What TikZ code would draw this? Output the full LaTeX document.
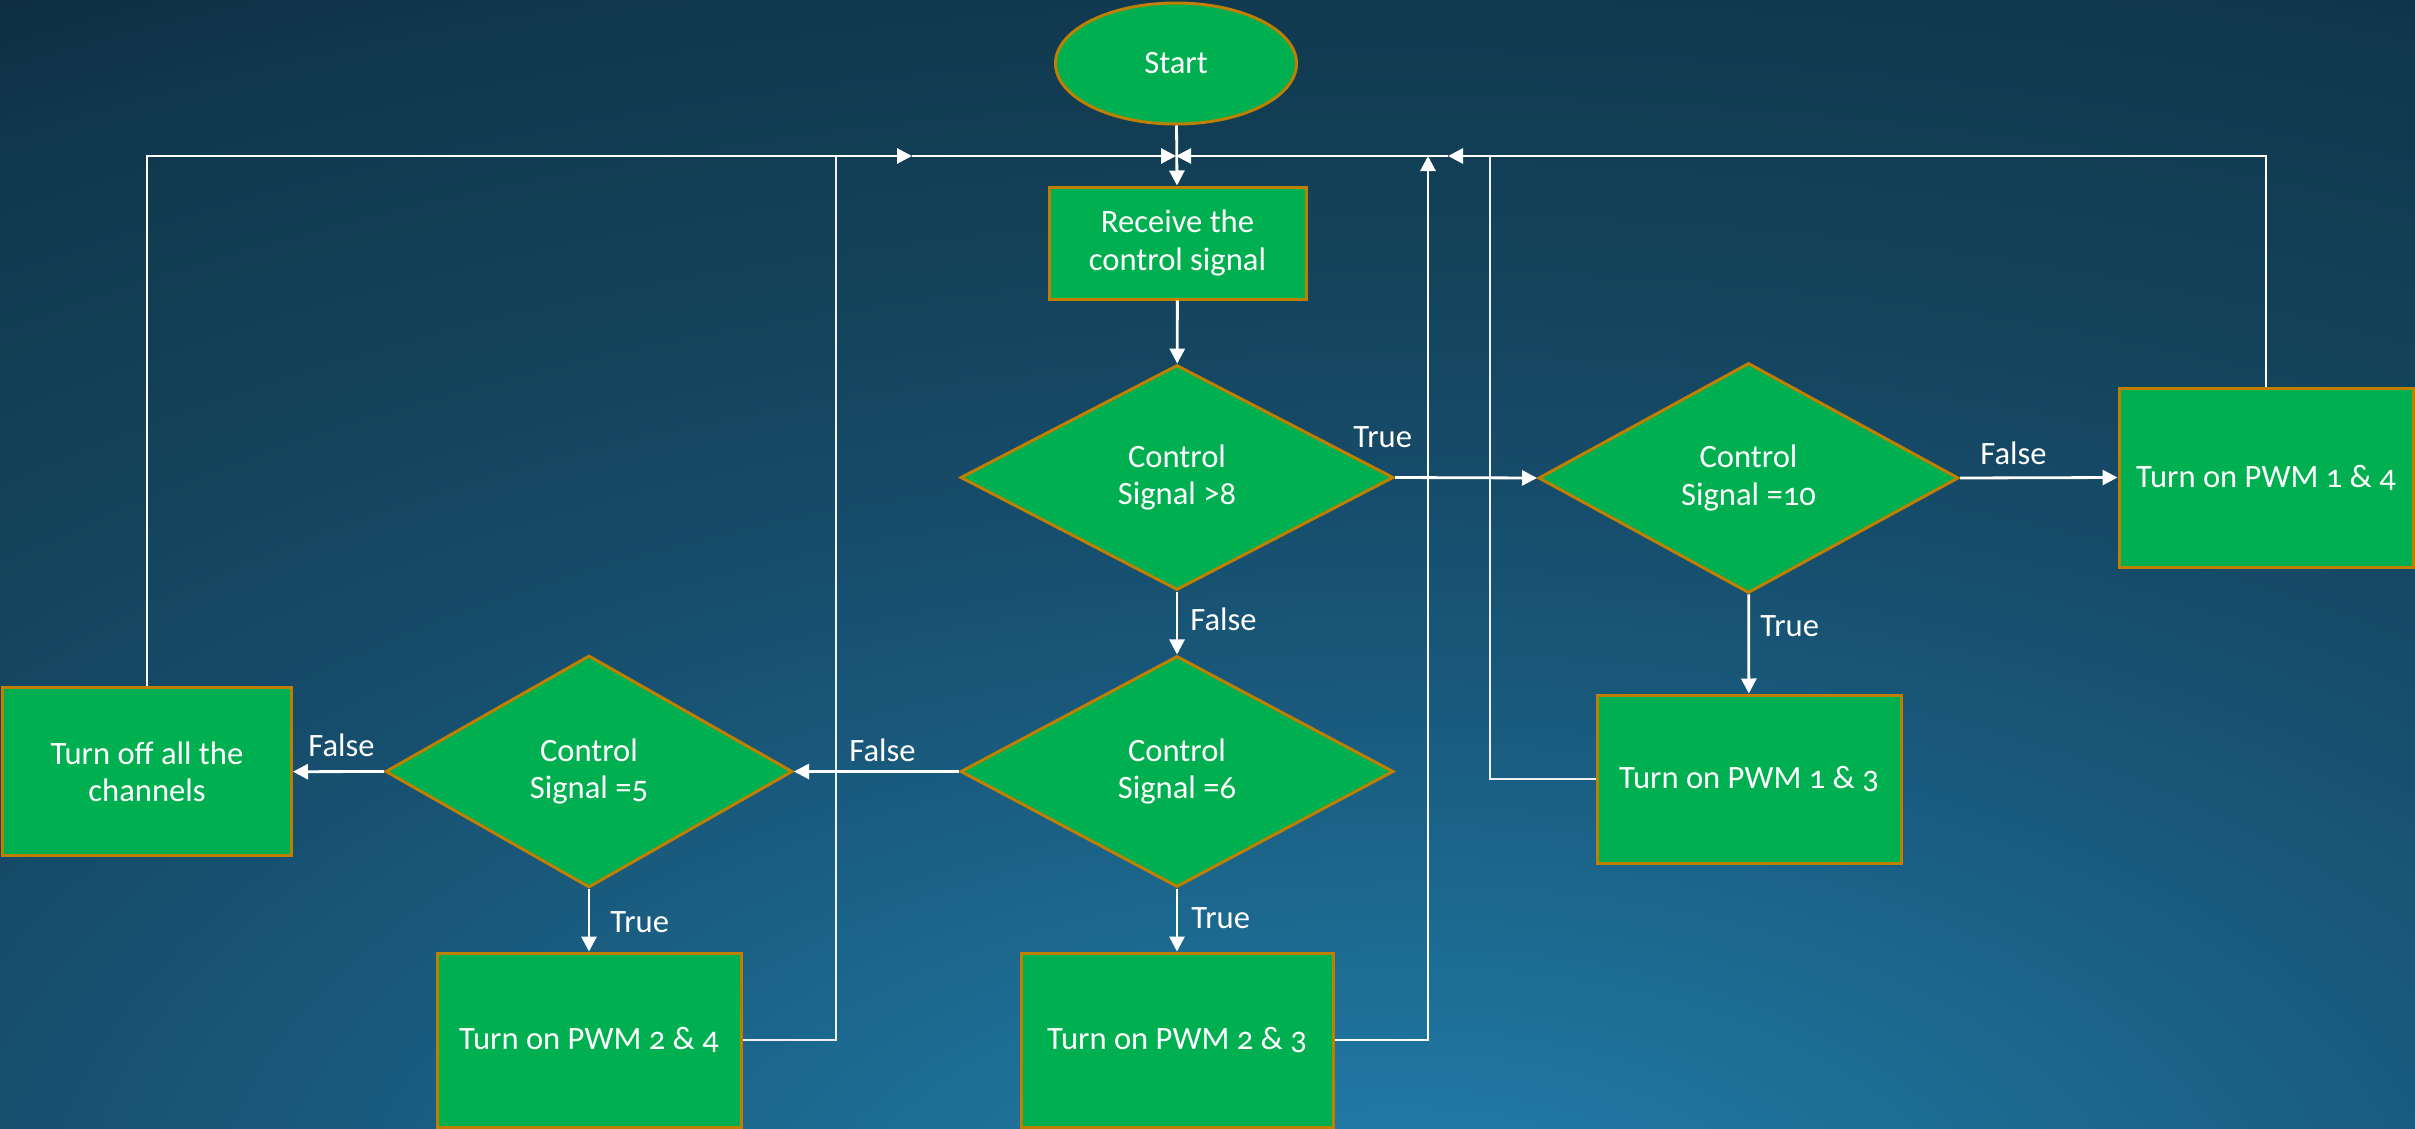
\documentclass[tikz,border=0pt]{standalone}
\usepackage{fontspec}
\setmainfont[Numbers=OldStyle]{Carlito}
\usetikzlibrary{shapes.geometric,arrows.meta}
\definecolor{bgA}{HTML}{2181B0}
\definecolor{bgB}{HTML}{1E7099}
\definecolor{bgC}{HTML}{195A7D}
\definecolor{bgD}{HTML}{164B69}
\definecolor{bgE}{HTML}{134259}
\definecolor{bgF}{HTML}{10384E}
\definecolor{bgG}{HTML}{0E2F43}
\definecolor{bgH}{HTML}{0D2B3E}
\definecolor{boxgreen}{HTML}{00B050}
\definecolor{boxborder}{HTML}{BF7F00}
\pgfdeclareradialshading{bgshade}{\pgfpoint{0bp}{0bp}}{color(0bp)=(bgA); color(3.5bp)=(bgB); color(8bp)=(bgC); color(11.5bp)=(bgD); color(15bp)=(bgE); color(19bp)=(bgF); color(21bp)=(bgG); color(25bp)=(bgH); color(50bp)=(bgH)}
\tikzset{
  x=0.5pt, y=-0.5pt,
  txt/.style={font=\fontsize{16.3}{18.6}\selectfont, text=white, align=center},
  base/.style={txt, draw=boxborder, fill=boxgreen, line width=1.5pt, inner sep=0pt},
  procbox/.style={base, rectangle},
  decision/.style={base, diamond},
  startnode/.style={base, ellipse},
  conn/.style={draw=white, line width=1.4pt},
  tip/.style={-{Triangle[length=7.5pt,width=7.5pt]}},
  thinconn/.style={draw=white!88!gray, line width=0.75pt},
  lbl/.style={txt, inner sep=0pt, anchor=west}
}
\begin{document}
\begin{tikzpicture}
\useasboundingbox (0,0) rectangle (2415,1129);
\begin{scope}
\clip (0,0) rectangle (2415,1129);
\shade[shading=bgshade] (-2000,-450) rectangle (4800,2950);
\end{scope}

% nodes
\node[startnode, minimum width=120.5pt, minimum height=60.5pt] (start) at (1176,63.5) {Start};
\node[procbox, minimum width=128.5pt, minimum height=56pt] (recv) at (1177.5,243) {Receive the\\control signal};
\node[decision, minimum width=216.5pt, minimum height=112.5pt] (c8) at (1177,477.5) {Control\\Signal >8};
\node[decision, minimum width=216.5pt, minimum height=115.5pt] (c6) at (1177,771.5) {Control\\Signal =6};
\node[decision, minimum width=203.5pt, minimum height=116pt] (c5) at (589,771.5) {Control\\Signal =5};
\node[decision, minimum width=210pt, minimum height=115pt] (c10) at (1748.5,478) {Control\\Signal =10};
\node[procbox, minimum width=144.5pt, minimum height=84pt] (off) at (147,771.7) {Turn off all the\\channels};
\node[procbox, minimum width=152pt, minimum height=87pt] (pwm24) at (589,1040) {Turn on PWM 2 \& 4};
\node[procbox, minimum width=156pt, minimum height=87pt] (pwm23) at (1177,1040) {Turn on PWM 2 \& 3};
\node[procbox, minimum width=152pt, minimum height=84pt] (pwm13) at (1749,779) {Turn on PWM 1 \& 3};
\node[procbox, minimum width=147pt, minimum height=89.5pt] (pwm14) at (2266,477.5) {Turn on PWM 1 \& 4};

% junction coordinates on the top return line
\coordinate (merge) at (1176,156);
\coordinate (midL) at (912,156);
\coordinate (midR) at (1448,156);
\coordinate (thinL) at (836,156);
\coordinate (upT) at (1428,156);
\coordinate (thinR) at (1490,156);

% main flow
\draw[conn,tip] (start) -- (recv);
\draw[conn,tip] (recv) -- (c8);
\draw[conn,tip] (c8) -- (c6);
\draw[conn,tip] (c8.east) -- (c10.west);
\draw[conn,tip] (c10.east) -- (pwm14.west);
\draw[conn,tip] (c10) -- (pwm13);
\draw[conn,tip] (c6.west) -- (c5.east);
\draw[conn,tip] (c6) -- (pwm23);
\draw[conn,tip] (c5.west) -- (off.east);
\draw[conn,tip] (c5) -- (pwm24);

% return lines
\draw[conn,tip] (off.north) |- (midL);
\draw[conn,tip] (midL) -- (merge);
\draw[conn,tip] (pwm14.north) |- (midR);
\draw[conn,tip] (midR) -- (merge);
\draw[conn,tip] (pwm23.east) -| (upT);
\draw[thinconn] (pwm24.east) -| (thinL);
\draw[thinconn] (pwm13.west) -| (thinR);

% labels
\node[lbl] (l1) at (1353,437) {True};
\node[lbl] (l2) at (1190,619) {False};
\node[lbl] (l3) at (1980,453) {False};
\node[lbl] (l4) at (1760,626) {True};
\node[lbl] (l5) at (849,750) {False};
\node[lbl] (l6) at (308,745) {False};
\node[lbl] (l7) at (610,922) {True};
\node[lbl] (l8) at (1191,918) {True};
\end{tikzpicture}
\end{document}
